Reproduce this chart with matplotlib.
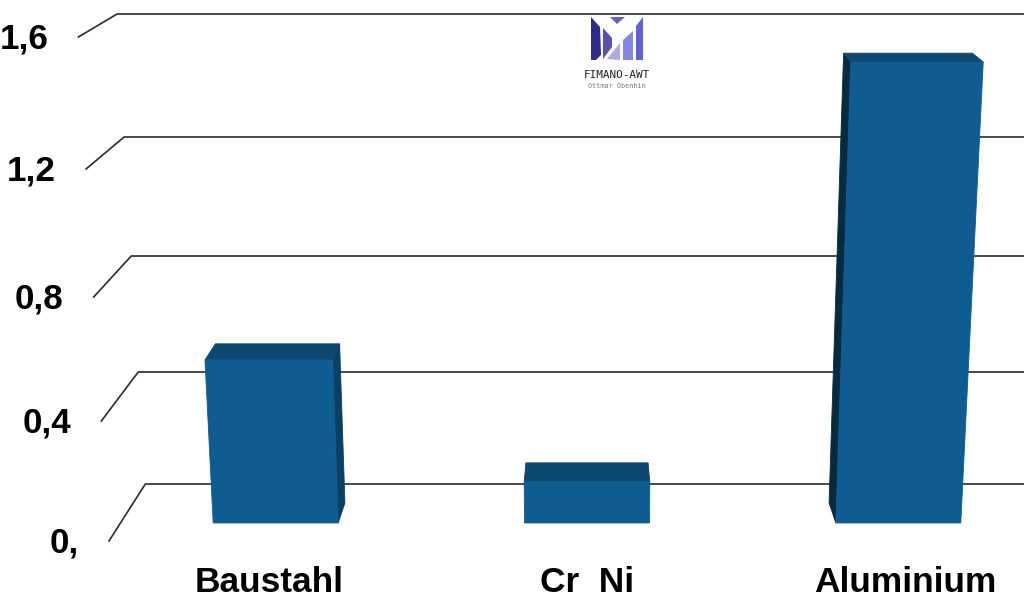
import numpy as np
import matplotlib
matplotlib.use('Agg')
import matplotlib.pyplot as plt
from matplotlib.patches import Polygon

# Datos
categorias = ['Baustahl', 'Cr  Ni', 'Aluminium']
valores = [0.55, 0.14, 1.5]
posiciones = [-1, 0, 1]
ticks = [0, 0.4, 0.8, 1.2, 1.6]
tick_labels = ['0,', '0,4', '0,8', '1,2', '1,6']

# Filas de la caja 3D en pixeles (borde delantero y pared trasera)
fila_frente = [541, 421, 297, 169, 37]
fila_fondo = [484, 372, 256, 137, 14]
CX = 587
PASO = 319
MEDIO = 64
MURO = 478
D_FRENTE = 0.316
D_ATRAS = 0.667


# Proyeccion simple: x en unidades de caja, v valor, d profundidad (0 frente, 1 fondo)
def proyectar(x, v, d):
    escala = (1 + 0.04 * v) * (1 - 0.076 * d)
    y0 = np.interp(v, ticks, fila_frente)
    y1 = np.interp(v, ticks, fila_fondo)
    return CX + x * escala, (1 - d) * y0 + d * y1


fig = plt.figure(figsize=(10.24, 6.03), dpi=100)
ax = fig.add_axes([0, 0, 1, 1])
ax.set_xlim(0, 1024)
ax.set_ylim(603, 0)
ax.axis('off')
plt.rcParams['font.family'] = ['Liberation Sans', 'DejaVu Sans']

# Rejilla y marcas del eje
for t, lab in zip(ticks, tick_labels):
    xa, ya = proyectar(-MURO, t, 0)
    xb, yb = proyectar(-MURO, t, 1)
    xc, yc = proyectar(MURO, t, 1)
    ax.plot([xa, xb, xc], [ya, yb, yc], color='#2b2b2b', lw=1.2, zorder=1, solid_joinstyle='miter')
    ax.text(xa - 30, ya + 2, lab, ha='right', va='center', fontsize=25.2, fontweight='bold', color='black')

# Barras
for pos, val, cat in zip(posiciones, valores, categorias):
    x0 = pos * PASO - MEDIO
    x1 = pos * PASO + MEDIO
    caras = []
    # cara lateral visible segun el lado del centro
    if pos != 0:
        xl = x1 if pos < 0 else x0
        color_lado = '#0b3f63' if pos < 0 else '#062a40'
        lado = [proyectar(xl, 0, D_FRENTE), proyectar(xl, val, D_FRENTE),
                proyectar(xl, val, D_ATRAS), proyectar(xl, 0, D_ATRAS)]
        caras.append((lado, color_lado))
    arriba = [proyectar(x0, val, D_FRENTE), proyectar(x1, val, D_FRENTE),
              proyectar(x1, val, D_ATRAS), proyectar(x0, val, D_ATRAS)]
    caras.append((arriba, '#0c4870'))
    frente = [proyectar(x0, 0, D_FRENTE), proyectar(x1, 0, D_FRENTE),
              proyectar(x1, val, D_FRENTE), proyectar(x0, val, D_FRENTE)]
    caras.append((frente, '#0e5c92'))
    for puntos, color in caras:
        ax.add_patch(Polygon(puntos, closed=True, facecolor=color, edgecolor=color, lw=0.6, zorder=3))
    ax.text(CX + pos * 318, 583, cat, ha='center', va='center', fontsize=25.4, fontweight='bold', color='black')

# Logo
ax.add_patch(Polygon([(591, 17), (600, 27), (601, 55), (596, 60), (591, 60)], facecolor='#2d2a8c', lw=0, zorder=4))
ax.add_patch(Polygon([(603, 28), (612, 38), (612, 47), (603, 59)], facecolor='#5a50b0', lw=0, zorder=4))
ax.add_patch(Polygon([(610, 17), (625, 17), (617, 24)], facecolor='#6a5cc4', lw=0, zorder=4))
ax.add_patch(Polygon([(607, 59), (620, 43), (620, 60)], facecolor='#a9abef', lw=0, zorder=4))
ax.add_patch(Polygon([(623, 40), (633, 31), (633, 60), (623, 60)], facecolor='#8585e8', lw=0, zorder=4))
ax.add_patch(Polygon([(636, 26), (643, 17), (643, 60), (636, 60)], facecolor='#5f5fe0', lw=0, zorder=4))
ax.text(617, 75, 'FIMANO-AWT', ha='center', va='center', fontsize=7.9, family='DejaVu Sans Mono', color='#222222')
ax.text(617, 86.5, 'Ottmar Obenhin', ha='center', va='center', fontsize=4.9, family='DejaVu Sans Mono', color='#777777')

fig.savefig('out.png', dpi=100)
